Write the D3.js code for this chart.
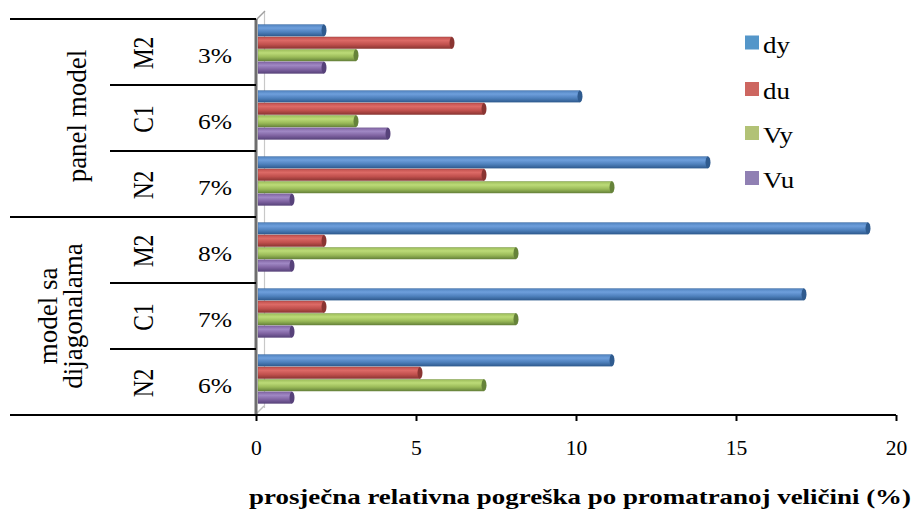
<!DOCTYPE html>
<html><head><meta charset="utf-8">
<script src="https://cdn.jsdelivr.net/npm/d3@7"></script>
<style>
body{margin:0;background:#fff;}
text{font-family:"Liberation Serif","Times New Roman",Times,serif;fill:#000;}
</style></head>
<body><svg id="c" width="916" height="513"></svg>
<script>
// ---- data ----
const groups = ["panel model", "model sa dijagonalama"];
const models = ["M2", "C1", "N2", "M2", "C1", "N2"];
const percents = ["3%", "6%", "7%", "8%", "7%", "6%"];
const series = ["dy", "du", "Vy", "Vu"];
const dy = [2, 10, 14, 19, 17, 11];
const du = [6, 7, 7, 2, 2, 5];
const Vy = [3, 3, 11, 8, 8, 7];
const Vu = [2, 4, 1, 1, 1, 1];
const xTicks = [0, 5, 10, 15, 20];
const xTitle = "prosječna relativna pogreška po promatranoj veličini (%)";

const values = [dy, du, Vy, Vu];
const barColors = [
  ["#6e9fdc", "#4f81bd", "#2f5b8f"],
  ["#dc6a66", "#c0504d", "#8a3532"],
  ["#bcdb78", "#9bbb59", "#66833a"],
  ["#a088c4", "#8064a2", "#57427a"]
];
const legendColors = ["#5496c9", "#cd6660", "#b2c276", "#9080b3"];

const svg = d3.select("#c");
const rows = d3.range(models.length);
const x = d3.scaleLinear().domain([0, 20]).range([256, 896]);
const y0 = d3.scaleBand().domain(rows).range([19, 415]);
const y1 = d3.scaleBand().domain(series).range([5.5, 54.5]).paddingInner(0.06);

// gradients
const defs = svg.append("defs");
series.forEach((s, i) => {
  const g = defs.append("linearGradient").attr("id", "g" + i)
    .attr("x1", 0).attr("y1", 0).attr("x2", 0).attr("y2", 1);
  g.append("stop").attr("offset", "0%").attr("stop-color", barColors[i][1]);
  g.append("stop").attr("offset", "30%").attr("stop-color", barColors[i][0]);
  g.append("stop").attr("offset", "65%").attr("stop-color", barColors[i][1]);
  g.append("stop").attr("offset", "100%").attr("stop-color", barColors[i][2]);
});

// 3D back wall
svg.append("line").attr("x1", 264.5).attr("x2", 264.5).attr("y1", 12).attr("y2", 408)
  .attr("stroke", "#c8c8c8").attr("stroke-width", 1.2);
svg.append("line").attr("x1", 256).attr("y1", 20).attr("x2", 265).attr("y2", 11)
  .attr("stroke", "#a0a0a0").attr("stroke-width", 1.5);
svg.append("line").attr("x1", 256).attr("y1", 414).attr("x2", 264).attr("y2", 406)
  .attr("stroke", "#c0c0c0").attr("stroke-width", 1.5);

// bars
rows.forEach(r => {
  series.forEach((s, i) => {
    const v = values[i][r];
    const yy = y0(r) + y1(s);
    const h = y1.bandwidth();
    svg.append("rect").attr("x", x(0) + 2).attr("y", yy)
      .attr("width", x(v) + 4 - x(0) - 2).attr("height", h)
      .attr("fill", "url(#g" + i + ")")
      .attr("stroke", barColors[i][2]).attr("stroke-width", 0.5).attr("stroke-opacity", 0.6);
    svg.append("ellipse").attr("cx", x(v) + 4).attr("cy", yy + h / 2)
      .attr("rx", 2.5).attr("ry", h / 2)
      .attr("fill", barColors[i][2]);
  });
});

// axes lines
svg.append("line").attr("x1", 256).attr("x2", 256).attr("y1", 19).attr("y2", 415)
  .attr("stroke", "#6e6e6e").attr("stroke-width", 3);
svg.append("line").attr("x1", 10).attr("x2", x(20)).attr("y1", 415).attr("y2", 415)
  .attr("stroke", "#000").attr("stroke-width", 2);

// x axis ticks
const xAxis = d3.axisBottom(x).tickValues(xTicks).tickSize(6).tickPadding(20).tickFormat(d3.format("d"));
const gx = svg.append("g").attr("transform", "translate(0,415)").call(xAxis);
gx.select(".domain").remove();
gx.attr("font-family", null).attr("font-size", null);
gx.selectAll(".tick line").attr("stroke", "#000").attr("stroke-width", 2);
gx.selectAll(".tick text").attr("font-size", 20).attr("fill", "#000")
  .attr("transform", "scale(1.08,1)");

// table lines
[0, 3].forEach(r => {
  svg.append("line").attr("x1", 10).attr("x2", 256).attr("y1", y0(r)).attr("y2", y0(r))
    .attr("stroke", "#000").attr("stroke-width", 2);
});
[1, 2, 4, 5].forEach(r => {
  svg.append("line").attr("x1", 110).attr("x2", 256).attr("y1", y0(r)).attr("y2", y0(r))
    .attr("stroke", "#000").attr("stroke-width", 2);
});

// row labels
rows.forEach(r => {
  const cy = y0(r) + y0.bandwidth() / 2;
  svg.append("text").attr("transform", `translate(153,${cy + 1}) scale(1.22,1) rotate(-90)`)
    .attr("text-anchor", "middle").attr("font-size", 23.5).text(models[r]);
  svg.append("text").attr("transform", `translate(215,${cy + 11}) scale(1.16,1)`)
    .attr("text-anchor", "middle").attr("font-size", 22).text(percents[r]);
});

// group labels
const gc0 = (y0(0) + y0(2) + y0.bandwidth()) / 2;
svg.append("text").attr("transform", `translate(86,${gc0 - 2}) rotate(-90)`)
  .attr("text-anchor", "middle").attr("font-size", 27).text(groups[0]);
const gc1 = (y0(3) + y0(5) + y0.bandwidth()) / 2;
const parts = groups[1].split(" ");
svg.append("text").attr("transform", `translate(57,${gc1}) rotate(-90)`)
  .attr("text-anchor", "middle").attr("font-size", 27).text(parts[0] + " " + parts[1]);
svg.append("text").attr("transform", `translate(82,${gc1}) rotate(-90)`)
  .attr("text-anchor", "middle").attr("font-size", 27).text(parts[2]);

// legend
const ly = [42.5, 89, 133, 178];
series.forEach((s, i) => {
  svg.append("rect").attr("x", 745).attr("y", ly[i] - 7).attr("width", 14).attr("height", 14)
    .attr("fill", legendColors[i]);
  svg.append("text").attr("transform", `translate(763,${ly[i] + 10}) scale(1.17,1)`)
    .attr("font-size", 23).text(s);
});

// x title
svg.append("text").attr("x", 580).attr("y", 504).attr("text-anchor", "middle")
  .attr("font-size", 22).attr("font-weight", "bold")
  .attr("textLength", 662).attr("lengthAdjust", "spacingAndGlyphs")
  .text(xTitle);
</script></body></html>
